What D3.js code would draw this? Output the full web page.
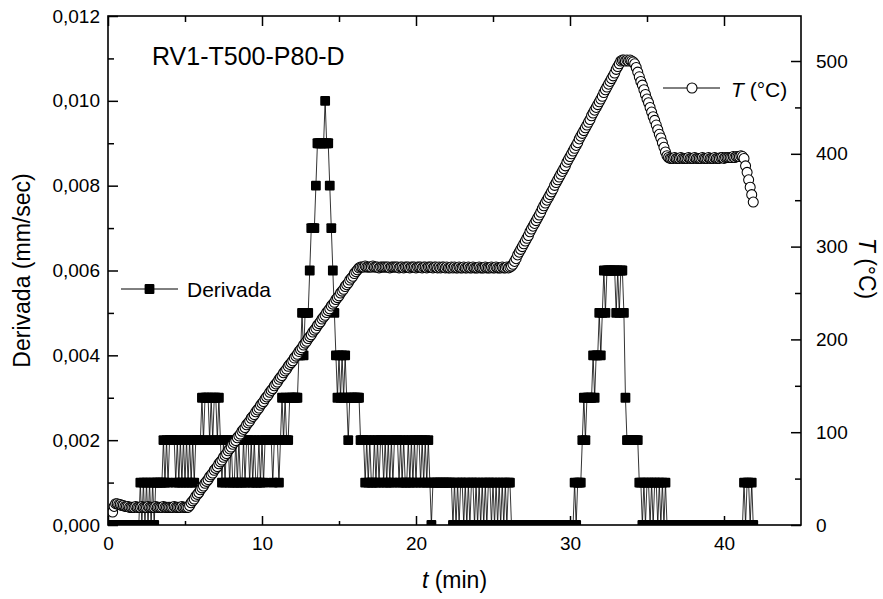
<!DOCTYPE html>
<html>
<head>
<meta charset="utf-8">
<script src="https://cdn.jsdelivr.net/npm/d3@7"></script>
<style>
  body { margin: 0; background: #fff; }
  svg text { font-family: "Liberation Sans", Arial, sans-serif; fill: #000; }
</style>
</head>
<body>
<svg id="chart" width="883" height="599"></svg>
<script>
// Tempo de ensaio (min)
const tempo = [
  0.3,0.4,0.5,0.6,0.7,0.8,0.9,
  1.0,1.1,1.2,1.3,1.4,1.5,1.6,1.7,1.8,1.9,
  2.0,2.1,2.2,2.3,2.4,2.5,2.6,2.7,2.8,2.9,
  3.0,3.1,3.2,3.3,3.4,3.5,3.6,3.7,3.8,3.9,
  4.0,4.1,4.2,4.3,4.4,4.5,4.6,4.7,4.8,4.9,
  5.0,5.1,5.2,5.3,5.4,5.5,5.6,5.7,5.8,5.9,
  6.0,6.1,6.2,6.3,6.4,6.5,6.6,6.7,6.8,6.9,
  7.0,7.1,7.2,7.3,7.4,7.5,7.6,7.7,7.8,7.9,
  8.0,8.1,8.2,8.3,8.4,8.5,8.6,8.7,8.8,8.9,
  9.0,9.1,9.2,9.3,9.4,9.5,9.6,9.7,9.8,9.9,
  10.0,10.1,10.2,10.3,10.4,10.5,10.6,10.7,10.8,10.9,
  11.0,11.1,11.2,11.3,11.4,11.5,11.6,11.7,11.8,11.9,
  12.0,12.1,12.2,12.3,12.4,12.5,12.6,12.7,12.8,12.9,
  13.0,13.1,13.2,13.3,13.4,13.5,13.6,13.7,13.8,13.9,
  14.0,14.1,14.2,14.3,14.4,14.5,14.6,14.7,14.8,14.9,
  15.0,15.1,15.2,15.3,15.4,15.5,15.6,15.7,15.8,15.9,
  16.0,16.1,16.2,16.3,16.4,16.5,16.6,16.7,16.8,16.9,
  17.0,17.1,17.2,17.3,17.4,17.5,17.6,17.7,17.8,17.9,
  18.0,18.1,18.2,18.3,18.4,18.5,18.6,18.7,18.8,18.9,
  19.0,19.1,19.2,19.3,19.4,19.5,19.6,19.7,19.8,19.9,
  20.0,20.1,20.2,20.3,20.4,20.5,20.6,20.7,20.8,20.9,
  21.0,21.1,21.2,21.3,21.4,21.5,21.6,21.7,21.8,21.9,
  22.0,22.1,22.2,22.3,22.4,22.5,22.6,22.7,22.8,22.9,
  23.0,23.1,23.2,23.3,23.4,23.5,23.6,23.7,23.8,23.9,
  24.0,24.1,24.2,24.3,24.4,24.5,24.6,24.7,24.8,24.9,
  25.0,25.1,25.2,25.3,25.4,25.5,25.6,25.7,25.8,25.9,
  26.0,26.1,26.2,26.3,26.4,26.5,26.6,26.7,26.8,26.9,
  27.0,27.1,27.2,27.3,27.4,27.5,27.6,27.7,27.8,27.9,
  28.0,28.1,28.2,28.3,28.4,28.5,28.6,28.7,28.8,28.9,
  29.0,29.1,29.2,29.3,29.4,29.5,29.6,29.7,29.8,29.9,
  30.0,30.1,30.2,30.3,30.4,30.5,30.6,30.7,30.8,30.9,
  31.0,31.1,31.2,31.3,31.4,31.5,31.6,31.7,31.8,31.9,
  32.0,32.1,32.2,32.3,32.4,32.5,32.6,32.7,32.8,32.9,
  33.0,33.1,33.2,33.3,33.4,33.5,33.6,33.7,33.8,33.9,
  34.0,34.1,34.2,34.3,34.4,34.5,34.6,34.7,34.8,34.9,
  35.0,35.1,35.2,35.3,35.4,35.5,35.6,35.7,35.8,35.9,
  36.0,36.1,36.2,36.3,36.4,36.5,36.6,36.7,36.8,36.9,
  37.0,37.1,37.2,37.3,37.4,37.5,37.6,37.7,37.8,37.9,
  38.0,38.1,38.2,38.3,38.4,38.5,38.6,38.7,38.8,38.9,
  39.0,39.1,39.2,39.3,39.4,39.5,39.6,39.7,39.8,39.9,
  40.0,40.1,40.2,40.3,40.4,40.5,40.6,40.7,40.8,40.9,
  41.0,41.1,41.2,41.3,41.4,41.5,41.6,41.7,41.8,41.9
];

// Derivada do deslocamento, em unidades de 0,001 mm/sec
const derivadaMilesimos = [
  0,0,0,0,0,0,0,
  0,0,0,0,0,0,0,0,0,0,
  0,1,0,1,0,1,0,1,0,1,
  0,1,1,1,1,1,2,1,2,1,
  2,2,2,2,1,2,1,2,1,2,
  1,2,1,2,1,2,1,2,2,2,
  2,3,2,3,3,3,2,3,2,3,
  3,2,3,2,1,2,1,2,2,1,
  2,1,1,2,1,2,1,1,2,1,
  2,2,1,2,1,2,1,1,2,1,
  2,1,2,2,2,2,2,1,2,2,
  2,1,2,3,2,3,2,2,3,3,
  3,3,3,3,4,4,5,4,5,5,
  5,6,7,7,7,8,9,9,9,9,
  9,10,9,9,8,7,6,5,4,3,
  4,3,4,3,4,3,2,3,3,3,
  3,3,3,3,2,2,2,1,2,1,
  2,1,1,2,1,2,1,2,2,1,
  2,1,2,1,2,1,2,2,2,1,
  2,1,2,1,1,2,1,2,1,2,
  1,2,2,1,2,1,2,1,2,1,
  0,1,1,1,1,1,1,1,1,1,
  1,1,1,1,0,1,0,1,0,1,
  1,0,1,0,1,0,1,1,0,1,
  0,1,0,1,0,1,0,1,1,0,
  1,0,1,0,1,0,1,0,1,0,
  1,1,0,0,0,0,0,0,0,0,
  0,0,0,0,0,0,0,0,0,0,
  0,0,0,0,0,0,0,0,0,0,
  0,0,0,0,0,0,0,0,0,0,
  0,0,0,1,0,1,1,1,2,3,
  2,3,3,3,3,4,3,4,4,5,
  4,5,6,5,6,6,6,6,6,6,
  5,6,5,6,6,5,3,2,2,2,
  2,2,2,2,2,1,1,0,1,0,
  1,1,0,1,0,1,1,0,1,0,
  1,0,1,0,0,0,0,0,0,0,
  0,0,0,0,0,0,0,0,0,0,
  0,0,0,0,0,0,0,0,0,0,
  0,0,0,0,0,0,0,0,0,0,
  0,0,0,0,0,0,0,0,0,0,
  0,0,0,1,0,1,1,0,1,0
];

// Temperatura (°C)
const temperatura = [
  14,20,23,23,22,22,21,
  21,20,20,20,19,19,19,19,20,19,
  19,19,20,19,19,19,20,19,19,19,
  19,20,19,19,19,19,20,19,19,19,
  19,19,19,20,19,19,19,19,20,19,
  19,19,19,21,24,26,28,31,33,35,
  38,40,42,45,47,49,52,54,56,59,
  61,63,66,68,70,73,75,77,80,82,
  84,87,89,91,94,96,98,101,103,105,
  108,110,112,115,117,119,122,124,126,129,
  131,133,136,138,140,143,145,147,150,152,
  154,157,159,161,164,166,168,171,173,175,
  177,180,182,184,187,189,191,194,196,198,
  201,203,205,208,210,212,215,217,219,222,
  224,226,229,231,233,236,238,240,243,245,
  247,250,252,254,257,259,261,264,266,268,
  271,273,275,277,278,278,278,279,278,278,
  278,278,279,278,278,278,277,278,278,278,
  278,278,278,277,278,278,278,278,278,277,
  278,278,277,278,278,278,277,278,278,278,
  277,278,278,278,277,278,278,277,278,278,
  278,277,278,278,277,278,277,278,278,277,
  278,277,277,278,277,278,277,277,278,277,
  277,278,277,277,278,277,277,278,277,277,
  277,278,277,277,277,278,277,277,277,278,
  277,277,278,277,277,277,278,277,277,278,
  277,278,279,281,284,287,291,294,297,300,
  303,306,309,312,316,319,322,325,328,331,
  334,337,341,344,347,350,353,356,359,362,
  366,369,372,375,378,381,384,387,391,394,
  397,400,403,406,409,412,416,419,422,425,
  428,431,434,437,441,444,447,450,453,456,
  459,462,466,469,472,475,478,481,484,487,
  491,494,497,500,501,501,500,501,500,501,
  500,499,497,493,488,483,478,474,469,464,
  459,455,450,445,440,436,431,426,421,417,
  412,407,402,398,396,395,395,395,396,395,
  395,395,396,395,395,395,395,396,395,395,
  395,396,395,395,395,395,396,395,395,395,
  396,395,395,395,396,395,395,395,396,396,
  395,396,396,396,396,396,397,396,397,397,
  397,398,397,395,387,380,372,364,356,348
];

// Marcas dos eixos
const tempoTicks = [0, 10, 20, 30, 40];
const tempoTicksMenores = [5, 15, 25, 35];
const derivadaTicks = [0, 0.002, 0.004, 0.006, 0.008, 0.010, 0.012];
const derivadaTicksMenores = [0.001, 0.003, 0.005, 0.007, 0.009, 0.011];
const temperaturaTicks = [0, 100, 200, 300, 400, 500];
const temperaturaTicksMenores = [50, 150, 250, 350, 450];

const tituloAmostra = "RV1-T500-P80-D";

// ---- layout ----
const area = { left: 108, right: 801, top: 16, bottom: 525 };

const x = d3.scaleLinear().domain([0, 45]).range([area.left, area.right]);
const yD = d3.scaleLinear().domain([0, 0.012]).range([area.bottom, area.top]);
const yT = d3.scaleLinear().domain([0, 548.5]).range([area.bottom, area.top]);

const svg = d3.select("#chart");

svg.append("defs").append("clipPath").attr("id", "clipArea")
  .append("rect")
  .attr("x", area.left).attr("y", area.top)
  .attr("width", area.right - area.left)
  .attr("height", area.bottom - area.top);

const pontos = tempo.map((t, i) => ({
  t: t,
  d: derivadaMilesimos[i] / 1000,
  T: temperatura[i]
}));

const dados = svg.append("g").attr("clip-path", "url(#clipArea)");

// Derivada: linha fina + quadrados cheios
dados.append("path")
  .datum(pontos)
  .attr("fill", "none")
  .attr("stroke", "#000")
  .attr("stroke-width", 0.8)
  .attr("d", d3.line().x(p => x(p.t)).y(p => yD(p.d)));

const lado = 9.8;
dados.append("g").selectAll("rect")
  .data(pontos)
  .join("rect")
  .attr("x", p => x(p.t) - lado / 2)
  .attr("y", p => yD(p.d) - lado / 2)
  .attr("width", lado)
  .attr("height", lado)
  .attr("rx", 1)
  .attr("fill", "#000");

// Temperatura: linha + círculos abertos
const raio = 5;
dados.append("path")
  .datum(pontos)
  .attr("fill", "none")
  .attr("stroke", "#000")
  .attr("stroke-width", 0.8)
  .attr("d", d3.line().x(p => x(p.t)).y(p => yT(p.T)));

dados.append("g").selectAll("circle")
  .data(pontos)
  .join("circle")
  .attr("cx", p => x(p.t))
  .attr("cy", p => yT(p.T))
  .attr("r", raio)
  .attr("fill", "#fff")
  .attr("stroke", "#000")
  .attr("stroke-width", 1.05);

// ---- eixos ----
const virgula = d3.formatLocale({ decimal: ",", thousands: ".", grouping: [3], currency: ["", ""] });
const fmtDerivada = virgula.format(".3f");
const fonteTicks = 19;

function estilo(g, comTexto) {
  g.select(".domain").remove();
  g.selectAll(".tick line").attr("stroke", "#000").attr("stroke-width", 1.5);
  if (comTexto) {
    g.selectAll(".tick text")
      .attr("font-size", fonteTicks)
      .attr("font-family", "Liberation Sans, Arial, sans-serif")
      .attr("fill", "#000");
  }
}

// inferior
svg.append("g").attr("transform", `translate(0,${area.bottom})`)
  .call(d3.axisBottom(x).tickValues(tempoTicks).tickSize(-9).tickPadding(12).tickFormat(d3.format("d")))
  .call(g => estilo(g, true));
svg.append("g").attr("transform", `translate(0,${area.bottom})`)
  .call(d3.axisBottom(x).tickValues(tempoTicksMenores).tickSize(-4).tickFormat(""))
  .call(g => estilo(g, false));

// superior
svg.append("g").attr("transform", `translate(0,${area.top})`)
  .call(d3.axisTop(x).tickValues(tempoTicks).tickSize(-10).tickFormat(""))
  .call(g => estilo(g, false));
svg.append("g").attr("transform", `translate(0,${area.top})`)
  .call(d3.axisTop(x).tickValues(tempoTicksMenores).tickSize(-6).tickFormat(""))
  .call(g => estilo(g, false));

// esquerdo
svg.append("g").attr("transform", `translate(${area.left},0)`)
  .call(d3.axisLeft(yD).tickValues(derivadaTicks).tickSize(-10).tickPadding(8).tickFormat(fmtDerivada))
  .call(g => estilo(g, true));
svg.append("g").attr("transform", `translate(${area.left},0)`)
  .call(d3.axisLeft(yD).tickValues(derivadaTicksMenores).tickSize(-6).tickFormat(""))
  .call(g => estilo(g, false));

// direito
svg.append("g").attr("transform", `translate(${area.right},0)`)
  .call(d3.axisRight(yT).tickValues(temperaturaTicks).tickSize(-10).tickPadding(15).tickFormat(d3.format("d")))
  .call(g => estilo(g, true));
svg.append("g").attr("transform", `translate(${area.right},0)`)
  .call(d3.axisRight(yT).tickValues(temperaturaTicksMenores).tickSize(-6).tickFormat(""))
  .call(g => estilo(g, false));

// moldura
svg.append("rect")
  .attr("x", area.left).attr("y", area.top)
  .attr("width", area.right - area.left)
  .attr("height", area.bottom - area.top)
  .attr("fill", "none")
  .attr("stroke", "#000")
  .attr("stroke-width", 1.6);

// ---- títulos ----
const xt = svg.append("text")
  .attr("x", (area.left + area.right) / 2)
  .attr("y", 588)
  .attr("text-anchor", "middle")
  .attr("font-size", 23);
xt.append("tspan").attr("font-style", "italic").text("t");
xt.append("tspan").text(" (min)");

svg.append("text")
  .attr("transform", `translate(30,${(area.top + area.bottom) / 2}) rotate(-90)`)
  .attr("text-anchor", "middle")
  .attr("font-size", 23)
  .text("Derivada (mm/sec)");

const yt = svg.append("text")
  .attr("transform", `translate(859,${(area.top + area.bottom) / 2 - 2}) rotate(90)`)
  .attr("text-anchor", "middle")
  .attr("font-size", 23);
yt.append("tspan").attr("font-style", "italic").text("T");
yt.append("tspan").text(" (°C)");

svg.append("text")
  .attr("x", 152)
  .attr("y", 65)
  .attr("font-size", 25)
  .text(tituloAmostra);

// ---- legendas ----
const legD = svg.append("g");
legD.append("line").attr("x1", 121).attr("x2", 178).attr("y1", 289).attr("y2", 289)
  .attr("stroke", "#000").attr("stroke-width", 1);
legD.append("rect").attr("x", 149.5 - lado / 2).attr("y", 289 - lado / 2)
  .attr("width", lado).attr("height", lado).attr("rx", 1).attr("fill", "#000");
legD.append("text").attr("x", 187).attr("y", 297).attr("font-size", 21).text("Derivada");

const legT = svg.append("g");
legT.append("line").attr("x1", 663).attr("x2", 720).attr("y1", 88).attr("y2", 88)
  .attr("stroke", "#000").attr("stroke-width", 1);
legT.append("circle").attr("cx", 692).attr("cy", 88).attr("r", raio)
  .attr("fill", "#fff").attr("stroke", "#000").attr("stroke-width", 1.05);
const lt = legT.append("text").attr("x", 731).attr("y", 97).attr("font-size", 21);
lt.append("tspan").attr("font-style", "italic").text("T");
lt.append("tspan").text(" (°C)");
</script>
</body>
</html>
